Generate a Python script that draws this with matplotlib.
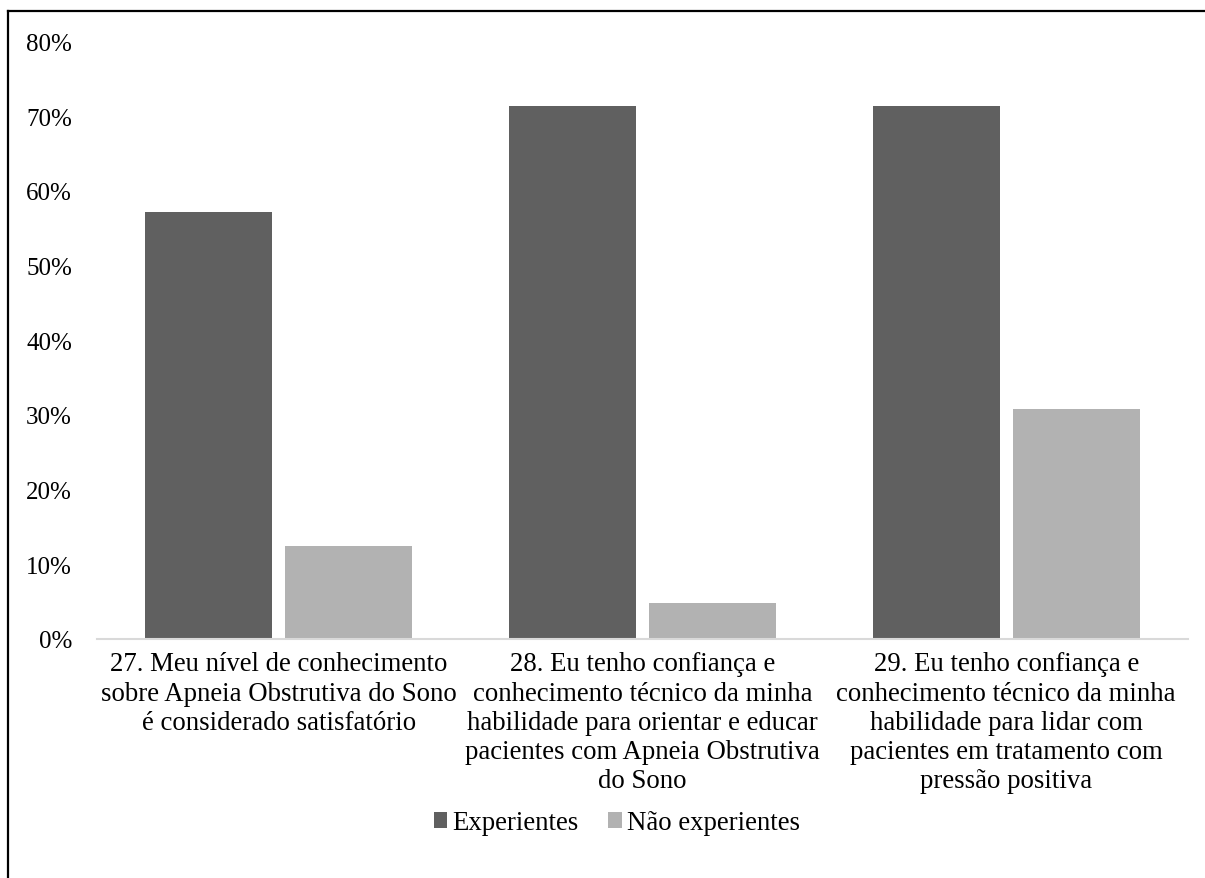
import numpy as np
import matplotlib.pyplot as plt
from matplotlib.lines import Line2D

plt.rcParams['font.family'] = ['Liberation Serif', 'DejaVu Serif']

categories = [
    "27. Meu nível de conhecimento\nsobre Apneia Obstrutiva do Sono\né considerado satisfatório",
    "28. Eu tenho confiança e\nconhecimento técnico da minha\nhabilidade para orientar e educar\npacientes com Apneia Obstrutiva\ndo Sono",
    "29. Eu tenho confiança e\nconhecimento técnico da minha\nhabilidade para lidar com\npacientes em tratamento com\npressão positiva",
]
experientes = [57.1, 71.4, 71.4]
nao_experientes = [12.5, 4.8, 30.8]
series_names = ["Experientes", "Não experientes"]
yticks = [0, 10, 20, 30, 40, 50, 60, 70, 80]

W, H = 1205, 879
fig = plt.figure(figsize=(W / 100, H / 100), dpi=100)
ax = fig.add_axes([97 / W, 1 - 640 / H, (1188 - 97) / W, (640 - 42.4) / H])

x = np.arange(len(categories))
bw = 0.349
off = 0.1925
ax.bar(x - off, experientes, bw, color="#606060", label=series_names[0])
ax.bar(x + off, nao_experientes, bw, color="#b2b2b2", label=series_names[1])

ax.set_xlim(-0.5, 2.5)
ax.set_ylim(0, 80)
ax.set_yticks(yticks)
ax.set_yticklabels([f"{v}%" for v in yticks])
ax.set_xticks(x)
ax.set_xticklabels(categories, linespacing=1.22)
ax.tick_params(axis="both", length=0)
ax.tick_params(axis="y", pad=18, labelsize=18)
ax.tick_params(axis="x", pad=9, labelsize=19.3)
for s in ["top", "right", "left"]:
    ax.spines[s].set_visible(False)
ax.spines["bottom"].set_color("#d9d9d9")
ax.spines["bottom"].set_linewidth(1.5)

fig.legend(loc="center", bbox_to_anchor=(617 / W, 1 - 824 / H), ncol=2, frameon=False,
           fontsize=19.3, handlelength=0.5, handleheight=0.5, handletextpad=0.2,
           columnspacing=1.1)

# outer frame: left and top edges only
fig.add_artist(Line2D([8 / W, 8 / W], [0, 1 - 12 / H], transform=fig.transFigure,
                      color="black", lw=1.6))
fig.add_artist(Line2D([8 / W, 1], [1 - 12 / H, 1 - 12 / H], transform=fig.transFigure,
                      color="black", lw=1.6))

fig.savefig("out.png", dpi=100)
